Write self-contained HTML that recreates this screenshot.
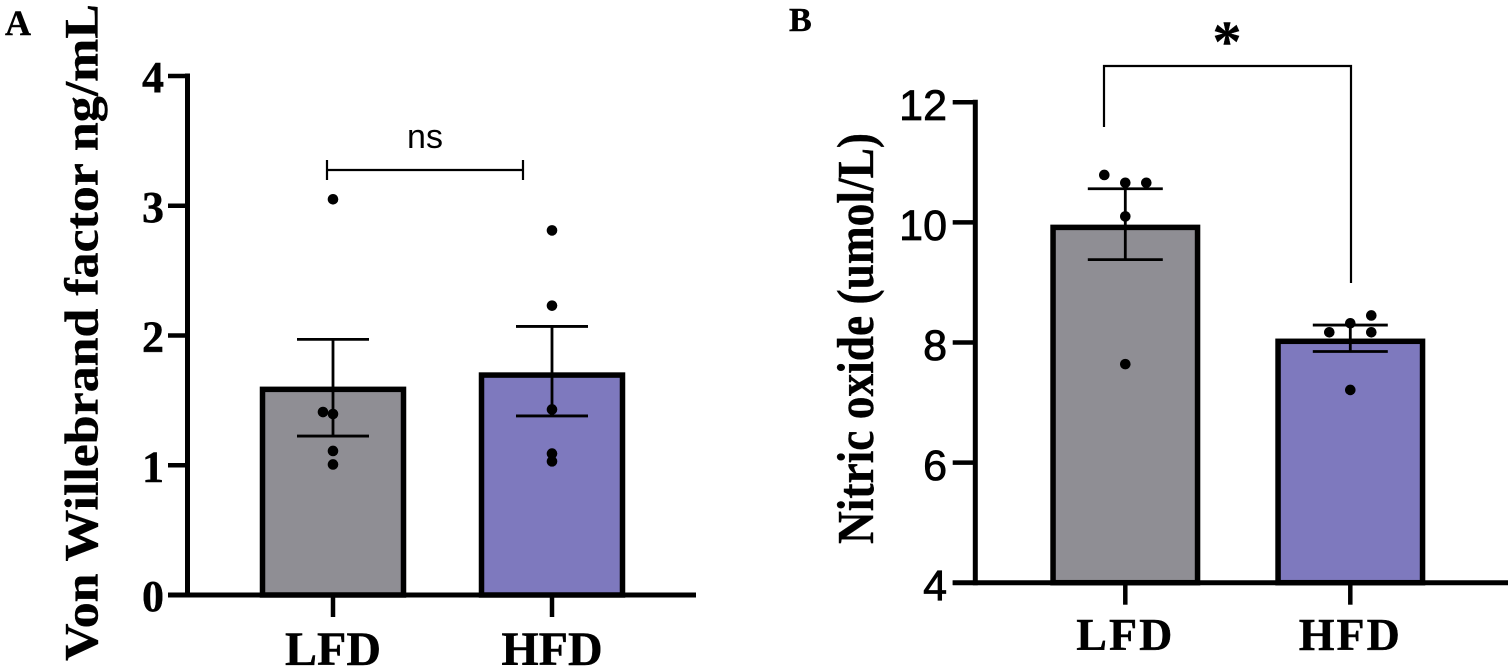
<!DOCTYPE html>
<html lang="en">
<head>
<meta charset="utf-8">
<title>Von Willebrand factor and nitric oxide in LFD and HFD groups</title>
<style>
  html, body { margin: 0; padding: 0; background: #fff; }
  body { width: 1508px; height: 670px; overflow: hidden; }
  svg { display: block; }
  .serif { font-family: "Liberation Serif", serif; font-weight: bold; fill: #000; stroke: #000; stroke-width: 0.4px; }
  .sans { font-family: "Liberation Sans", sans-serif; fill: #000; stroke: #000; stroke-width: 0.8px; }
  .plain { font-family: "Liberation Sans", sans-serif; fill: #000; }
</style>
</head>
<body>
<svg id="figure" xmlns="http://www.w3.org/2000/svg" width="1508" height="670" viewBox="0 0 1508 670"></svg>
<script>
// Panel A data
const categories = ['LFD', 'HFD'];
const vwfMeans = [1.585, 1.695];
const vwfErrLow = [1.225, 1.38];
const vwfErrHigh = [1.97, 2.07];
const vwfLfdPoints = [3.05, 1.41, 1.395, 1.11, 1.006];
const vwfHfdPoints = [2.81, 2.23, 1.43, 1.09, 1.03];
const vwfLfdSwarm = [0, -1, 0, 0, 0];
const vwfHfdSwarm = [0, 0, 0, 0, 0];
const vwfTicks = [0, 1, 2, 3, 4];
const vwfTickLabels = ['0', '1', '2', '3', '4'];

// Panel B data
const noMeans = [9.917, 8.02];
const noErrLow = [9.38, 7.85];
const noErrHigh = [10.56, 8.29];
const noLfdPoints = [10.79, 10.66, 10.66, 10.10, 7.64];
const noHfdPoints = [8.45, 8.32, 8.17, 8.17, 7.21];
const noLfdSwarm = [-1, 0, 1, 0, 0];
const noHfdSwarm = [1, 0, -1, 1, 0];
const noTicks = [4, 6, 8, 10, 12];
const noTickLabels = ['4', '6', '8', '10', '12'];

const barFills = ['#8f8e94', '#7e79be'];
const svg = document.getElementById('figure');

function mk(tag, attrs, parent, text) {
  const el = document.createElementNS('http://www.w3.org/2000/svg', tag);
  for (const k in attrs) el.setAttribute(k, attrs[k]);
  if (text !== undefined) el.textContent = text;
  parent.appendChild(el);
  return el;
}
function linear(d0, d1, r0, r1) {
  return v => r0 + (v - d0) * (r1 - r0) / (d1 - d0);
}

function drawPanel(p) {
  const g = mk('g', {}, svg);
  
  
  const y = linear(p.ticks[0], p.ticks[p.ticks.length - 1], p.y0, p.yTop);
  const x = i => p.centers[i];

  // bars
  categories.forEach((c, i) => {
    const top = y(p.means[i]);
    const bar = mk('rect', {
      x: x(i) - p.barW / 2, y: top, width: p.barW, height: p.y0 - top,
      fill: barFills[i], stroke: '#000', 'stroke-width': 5.5
    }, g);
    
    
  });

  // axes
  const yAxis = mk('line', { x1: p.axisX, x2: p.axisX, y1: p.yTop - 2.5, y2: p.y0 + 2.5, stroke: '#000', 'stroke-width': 5 }, g);
  
  
  const xAxis = mk('line', { x1: p.tickStart, x2: p.xEnd, y1: p.y0, y2: p.y0, stroke: '#000', 'stroke-width': 5 }, g);
  
  

  // y ticks and labels
  p.ticks.forEach((t, i) => {
    const tick = mk('line', { x1: p.tickStart, x2: p.axisX, y1: y(t), y2: y(t), stroke: '#000', 'stroke-width': 4.5 }, g);
    
    
    const label = mk('text', {
      x: p.tickLabelX, y: y(t) + p.tickLabelDy, 'text-anchor': 'end',
      class: p.tickClass, 'font-size': p.tickSize
    }, g, p.tickLabels[i]);
    
    
  });

  // x ticks and labels
  categories.forEach((c, i) => {
    const tick = mk('line', { x1: x(i), x2: x(i), y1: p.y0, y2: p.y0 + 22, stroke: '#000', 'stroke-width': 4.5 }, g);
    
    
    const label = mk('text', {
      x: x(i), y: p.catBaseline, 'text-anchor': 'middle',
      class: 'serif', 'font-size': p.catSize, 'letter-spacing': p.catSpacing
    }, g, c);
    
    
  });

  // error bars
  categories.forEach((c, i) => {
    const e = mk('path', {
      d: 'M' + (x(i) - p.capW / 2) + ' ' + y(p.errHigh[i]) + 'H' + (x(i) + p.capW / 2) +
         'M' + x(i) + ' ' + y(p.errHigh[i]) + 'V' + y(p.errLow[i]) +
         'M' + (x(i) - p.capW / 2) + ' ' + y(p.errLow[i]) + 'H' + (x(i) + p.capW / 2),
      fill: 'none', stroke: '#000', 'stroke-width': 2.8
    }, g);
    
    
  });

  // points
  categories.forEach((c, i) => {
    p.points[i].forEach((v, j) => {
      const dot = mk('circle', {
        cx: x(i) + p.swarm[i][j] * p.swarmStep, cy: y(v), r: 5.3, fill: '#000'
      }, g);
      
      
    });
  });
}

drawPanel({
  name: 'panel-a-chart', means: vwfMeans, errLow: vwfErrLow, errHigh: vwfErrHigh,
  points: [vwfLfdPoints, vwfHfdPoints], swarm: [vwfLfdSwarm, vwfHfdSwarm], swarmStep: 10,
  ticks: vwfTicks, tickLabels: vwfTickLabels, y0: 595, yTop: 76, axisX: 187.5, tickStart: 168, xEnd: 696,
  centers: [333, 552], barW: 141, capW: 72, tickLabelX: 164, tickLabelDy: 16, tickClass: 'serif', tickSize: 44,
  catBaseline: 665, catSize: 48, catSpacing: 0
});
drawPanel({
  name: 'panel-b-chart', means: noMeans, errLow: noErrLow, errHigh: noErrHigh,
  points: [noLfdPoints, noHfdPoints], swarm: [noLfdSwarm, noHfdSwarm], swarmStep: 21,
  ticks: noTicks, tickLabels: noTickLabels, y0: 582.7, yTop: 102.3, axisX: 975.3, tickStart: 952.7, xEnd: 1508,
  centers: [1125.3, 1350.3], barW: 144.5, capW: 75, tickLabelX: 947, tickLabelDy: 17.5, tickClass: 'sans', tickSize: 43,
  catBaseline: 650, catSize: 46, catSpacing: 2
});
</script>
<svg xmlns="http://www.w3.org/2000/svg" width="1508" height="670" viewBox="0 0 1508 670" style="position:absolute;left:0;top:0;">
  <text class="serif" x="5" y="35" font-size="36">A</text>
  <text class="serif" x="789" y="31" font-size="34">B</text>
  <text class="serif" font-size="48" text-anchor="start" textLength="657" lengthAdjust="spacingAndGlyphs" transform="translate(97.5,661) rotate(-90)">Von Willebrand factor ng/mL</text>
  <text class="serif" font-size="52" text-anchor="start" textLength="411" lengthAdjust="spacingAndGlyphs" transform="translate(873,544) rotate(-90)">Nitric oxide (umol/L)</text>
  <path d="M327 160V180M327 170H523M523 160V180" fill="none" stroke="#000" stroke-width="2.2"/>
  <text class="plain" x="425" y="148" font-size="34" text-anchor="middle">ns</text>
  <path d="M1104 127V66H1351V283" fill="none" stroke="#000" stroke-width="2.2"/>
  <text class="serif" x="1227" y="61" font-size="58" text-anchor="middle">*</text>
</svg>
</body>
</html>
